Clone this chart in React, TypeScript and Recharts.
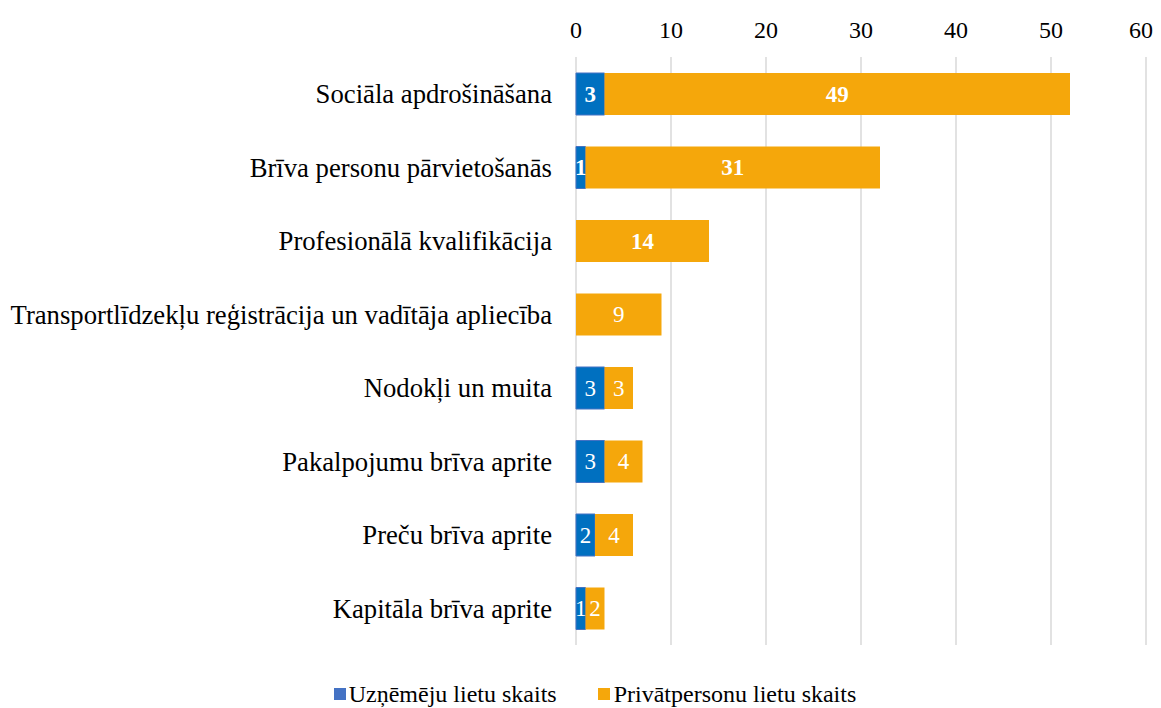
import React from 'react';
import {
	Bar,
	BarChart,
	CartesianGrid,
	LabelList,
	Legend,
	XAxis,
	YAxis,
} from 'recharts';

const categories = [
	'Sociāla apdrošināšana',
	'Brīva personu pārvietošanās',
	'Profesionālā kvalifikācija',
	'Transportlīdzekļu reģistrācija un vadītāja apliecība',
	'Nodokļi un muita',
	'Pakalpojumu brīva aprite',
	'Preču brīva aprite',
	'Kapitāla brīva aprite',
];
const businessCases = [3, 1, 0, 0, 3, 3, 2, 1];
const privateCases = [49, 31, 14, 9, 3, 4, 4, 2];
const boldRows = [true, true, true, false, false, false, false, false];
const xTicks = [0, 10, 20, 30, 40, 50, 60];

const BLUE = '#0070C0';
const ORANGE = '#F5A70B';
const FONT = '"Liberation Serif", "Times New Roman", serif';

const data = categories.map((name, i) => ({
	name,
	business: businessCases[i],
	private: privateCases[i],
	bold: boldRows[i],
}));

// label value carries the bold flag, since LabelList indexes skip empty bars
const labelValue = (key: 'business' | 'private') => (d: any) =>
	d[key] ? `${d.bold ? 'b' : 'n'}${d[key]}` : '';

const renderLabel = (props: any) => {
	const { x, y, width, height, value } = props;
	if (!value) return null;
	const str = String(value);
	return (
		<text
			x={x + width / 2}
			y={y + height / 2}
			fill="#fff"
			textAnchor="middle"
			dominantBaseline="central"
			fontFamily={FONT}
			fontSize={23}
			fontWeight={str[0] === 'b' ? 'bold' : 'normal'}
		>
			{str.slice(1)}
		</text>
	);
};

const renderLegend = () => (
	<div
		style={{
			display: 'flex',
			justifyContent: 'center',
			alignItems: 'center',
			height: 30,
			fontFamily: FONT,
			fontSize: 24,
			color: '#000',
			paddingLeft: 29,
		}}
	>
		<span style={{ display: 'flex', alignItems: 'center', marginRight: 41 }}>
			<span style={{ width: 12, height: 12, background: '#4472C4', marginRight: 3 }} />
			Uzņēmēju lietu skaits
		</span>
		<span style={{ display: 'flex', alignItems: 'center' }}>
			<span style={{ width: 12, height: 12, background: ORANGE, marginRight: 4 }} />
			Privātpersonu lietu skaits
		</span>
	</div>
);

export default function App() {
	return (
		<>
			<style>{'.recharts-surface{overflow:visible}'}</style>
			<BarChart
				width={1145}
				height={700}
				data={data}
				layout="vertical"
				margin={{ top: 19, right: 7, left: 0, bottom: 33 }}
				barSize={42}
			>
				<CartesianGrid horizontal={false} stroke="#d9d9d9" strokeWidth={1.5} />
				<XAxis
					type="number"
					orientation="top"
					domain={[0, 60]}
					ticks={xTicks}
					height={30}
					axisLine={false}
					tickLine={false}
					tickSize={0}
					tickMargin={19}
					tick={{ fill: '#000', fontFamily: FONT, fontSize: 24 }}
				/>
				<YAxis
					type="category"
					dataKey="name"
					width={568}
					axisLine={false}
					tickLine={false}
					tickSize={0}
					tickMargin={24}
					tick={{ fill: '#000', fontFamily: FONT, fontSize: 26.7 }}
				/>
				<Legend content={renderLegend} wrapperStyle={{ top: 671, left: 0, width: 1145 }} />
				<Bar dataKey="business" stackId="a" fill={BLUE} stroke="#4472C4" isAnimationActive={false}>
					<LabelList dataKey={labelValue('business')} content={renderLabel} />
				</Bar>
				<Bar dataKey="private" stackId="a" fill={ORANGE} isAnimationActive={false}>
					<LabelList dataKey={labelValue('private')} content={renderLabel} />
				</Bar>
			</BarChart>
		</>
	);
}
